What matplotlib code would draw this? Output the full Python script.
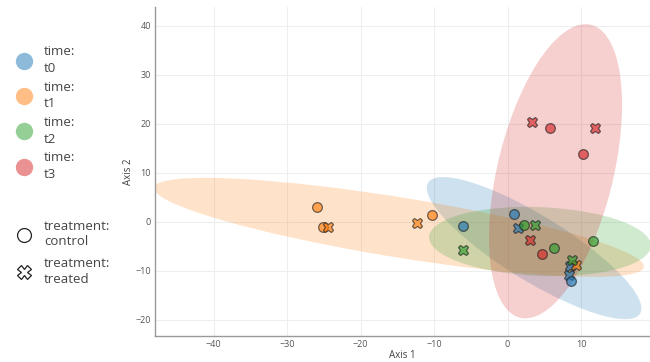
import numpy as np
import matplotlib
matplotlib.use("Agg")
import matplotlib.pyplot as plt
from matplotlib.patches import Ellipse
from matplotlib.lines import Line2D

plt.rcParams['font.family'] = ['Open Sans', 'DejaVu Sans']

# ordination scores per sample
times = ["t0", "t1", "t2", "t3"]
colors = ["#1f77b4", "#ff7f0e", "#2ca02c", "#d62728"]

axis1 = {
    "t0": [-6.1, 0.9, 1.4, 8.5, 8.4, 8.6],
    "t1": [-25.9, -25.1, -24.4, -12.3, -10.3, 9.3],
    "t2": [-6.1, 2.2, 3.7, 6.3, 11.6, 8.8],
    "t3": [3.4, 5.8, 11.9, 10.3, 3.1, 4.7],
}
axis2 = {
    "t0": [-0.8, 1.7, -1.2, -9.1, -10.8, -12.0],
    "t1": [3.1, -1.0, -1.1, -0.3, 1.4, -8.9],
    "t2": [-5.7, -0.6, -0.7, -5.4, -3.9, -7.8],
    "t3": [20.3, 19.1, 19.2, 13.8, -3.8, -6.6],
}
treatment = {
    "t0": ["control", "control", "treated", "treated", "treated", "control"],
    "t1": ["control", "control", "treated", "treated", "control", "treated"],
    "t2": ["treated", "control", "treated", "control", "control", "treated"],
    "t3": ["treated", "control", "treated", "control", "treated", "control"],
}
markers = {"control": "o", "treated": "X"}


def conf_ellipse(x, y, color):
    # 95% confidence ellipse from the sample covariance
    x = np.asarray(x)
    y = np.asarray(y)
    cov = np.cov(x, y)
    vals, vecs = np.linalg.eigh(cov)
    order = vals.argsort()[::-1]
    vals = vals[order]
    vecs = vecs[:, order]
    angle = np.degrees(np.arctan2(vecs[1, 0], vecs[0, 0]))
    k = np.sqrt(5.991)
    w, h = 2 * k * np.sqrt(vals)
    return Ellipse((x.mean(), y.mean()), w, h, angle=angle,
                   facecolor=color, alpha=0.22, edgecolor="none", zorder=1)


fig = plt.figure(figsize=(6.5, 3.62), dpi=100)
ax = fig.add_axes([0.2385, 0.072, 0.7615, 0.909])

for t, c in zip(times, colors):
    ax.add_patch(conf_ellipse(axis1[t], axis2[t], c))

for t, c in zip(times, colors):
    for xv, yv, tr in zip(axis1[t], axis2[t], treatment[t]):
        ax.plot(xv, yv, markers[tr], markersize=7 if tr == "control" else 7.5,
                markerfacecolor=c, alpha=0.65, markeredgecolor="#222222",
                markeredgewidth=0.9, zorder=3)

ax.set_xlim(-48, 19.4)
ax.set_ylim(-23.3, 43.9)
ax.set_xticks([-40, -30, -20, -10, 0, 10])
ax.set_yticks([-20, -10, 0, 10, 20, 30, 40])
ax.grid(color="#eeeeee", linewidth=0.8)
ax.set_axisbelow(True)
for s in ["top", "right"]:
    ax.spines[s].set_visible(False)
for s in ["left", "bottom"]:
    ax.spines[s].set_color("#999999")
    ax.spines[s].set_linewidth(1.0)
ax.tick_params(length=0, labelsize=6.5, labelcolor="#555555", pad=3)
ax.set_xlabel("Axis 1", fontsize=7, color="#444444", labelpad=1)
ax.set_ylabel("Axis 2", fontsize=7, color="#444444", labelpad=1)

# legend: colour by time, shape by treatment
time_handles = [Line2D([], [], marker="o", linestyle="none", markersize=12.5,
                       markerfacecolor=c, markeredgecolor="none", alpha=0.5)
                for c in colors]
leg1 = fig.legend(time_handles, ["time:\n" + t for t in times],
                  loc="upper left", bbox_to_anchor=(0.015, 0.889),
                  frameon=False, fontsize=9.5, labelspacing=0.44,
                  handletextpad=0.8, handlelength=1.4, borderaxespad=0)
for txt in leg1.get_texts():
    txt.set_color("#444444")
    txt.set_linespacing(1.35)

shape_handles = [Line2D([], [], marker=markers[k], linestyle="none",
                        markersize=10, markerfacecolor="white",
                        markeredgecolor="#222222", markeredgewidth=0.9)
                 for k in ["control", "treated"]]
leg2 = fig.legend(shape_handles, ["treatment:\ncontrol", "treatment:\ntreated"],
                  loc="upper left", bbox_to_anchor=(0.015, 0.407),
                  frameon=False, fontsize=9.5, labelspacing=0.65,
                  handletextpad=0.8, handlelength=1.4, borderaxespad=0)
for txt in leg2.get_texts():
    txt.set_color("#444444")
    txt.set_linespacing(1.25)

fig.savefig("out.png", dpi=100)
